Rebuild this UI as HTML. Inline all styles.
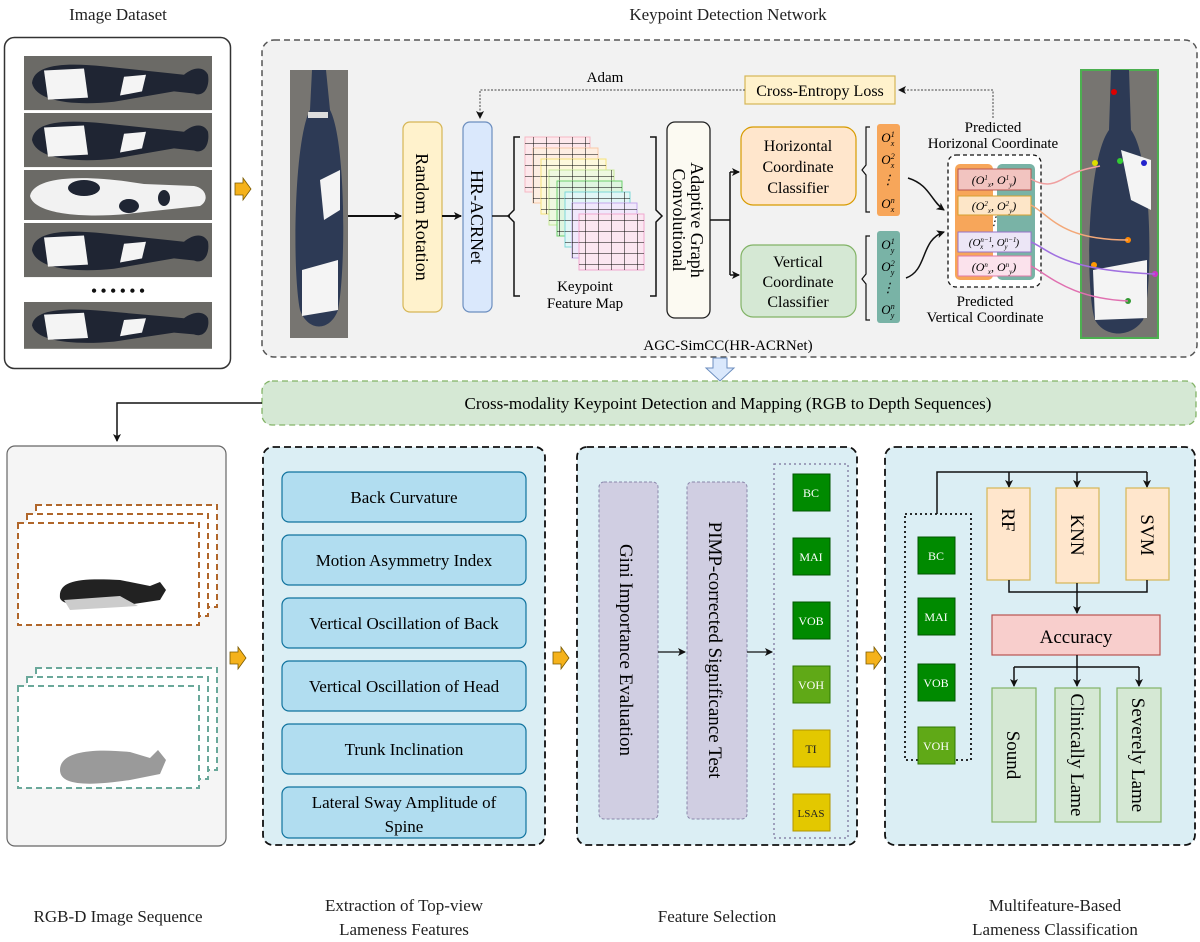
<!DOCTYPE html>
<html><head><meta charset="utf-8"><style>
html,body{margin:0;padding:0;background:#fff;}
svg{display:block;font-family:"Liberation Serif",serif;}
</style></head><body>
<svg width="1200" height="942" viewBox="0 0 1200 942" xmlns="http://www.w3.org/2000/svg">
<defs>
<marker id="ah" markerWidth="8" markerHeight="8" refX="7" refY="4" orient="auto" markerUnits="userSpaceOnUse"><path d="M0,0 L8,4 L0,8 L2,4 Z" fill="#111"/></marker>
<g id="cowH">
 <rect x="0" y="0" width="188" height="52" fill="#6b6a66"/>
 <path d="M8,26 C10,8 40,6 80,10 L140,16 L160,18 C170,10 180,10 184,18 C186,30 180,40 170,36 L150,34 L90,44 C50,48 12,44 8,26Z" fill="#1f2533"/>
 <path d="M20,14 L60,12 L64,40 L24,42Z" fill="#f4f4f4"/>
 <path d="M100,20 L122,18 L118,34 L96,38Z" fill="#f4f4f4"/>
</g>
<g id="yarr"><path d="M0,-6 L8,-6 L8,-11 L16,0 L8,11 L8,6 L0,6Z" fill="#f5b21b" stroke="#7a5a00" stroke-width="0.8"/></g>
<pattern id="grid" width="13" height="11" patternUnits="userSpaceOnUse"><path d="M13,0 L0,0 0,11" fill="none" stroke="currentColor" stroke-width="1"/></pattern>
</defs>

<g font-size="17" text-anchor="middle" fill="#222">
<text x="118" y="20">Image Dataset</text>
<text x="728" y="20">Keypoint Detection Network</text>
<text x="118" y="922">RGB-D Image Sequence</text>
<text x="404" y="911">Extraction of Top-view</text>
<text x="404" y="935">Lameness Features</text>
<text x="717" y="922">Feature Selection</text>
<text x="1055" y="911">Multifeature-Based</text>
<text x="1055" y="935">Lameness Classification</text>
</g>

<rect x="4.5" y="37.5" width="226" height="331" rx="10" fill="#fff" stroke="#333" stroke-width="1.5"/>
<use href="#cowH" transform="translate(24,56) scale(1,1.04)"/>
<use href="#cowH" transform="translate(24,113) scale(1,1.04)"/>
<g transform="translate(24,170)"><rect width="188" height="50" fill="#6b6a66"/><path d="M6,26 C10,6 60,4 120,14 L170,16 C182,18 186,30 176,36 L120,42 C60,50 10,44 6,26Z" fill="#f2f2f2"/><ellipse cx="60" cy="18" rx="16" ry="8" fill="#1f2533"/><ellipse cx="105" cy="36" rx="10" ry="7" fill="#1f2533"/><ellipse cx="140" cy="28" rx="6" ry="8" fill="#1f2533"/></g>
<use href="#cowH" transform="translate(24,223) scale(1,1.04)"/>
<text x="118" y="296" text-anchor="middle" font-size="16" font-weight="bold" fill="#111">• • • • • •</text>
<use href="#cowH" transform="translate(24,302) scale(1,0.9)"/>
<use href="#yarr" transform="translate(235,189)"/>

<rect x="262" y="40" width="935" height="317" rx="12" fill="#f2f2f2" stroke="#555" stroke-width="1.5" stroke-dasharray="6,4"/>
<g transform="translate(290,70)"><rect width="58" height="268" fill="#777571"/>
<path d="M22,0 L36,0 L40,40 C56,70 56,200 48,240 C40,262 18,262 10,240 C2,200 4,70 20,40Z" fill="#2d3a55"/>
<path d="M12,200 L48,190 L48,240 L12,246Z" fill="#f4f4f4"/><path d="M30,110 L50,100 L50,140 L34,150Z" fill="#f4f4f4"/><rect x="18" y="42" width="20" height="6" fill="#ddd"/></g>
<line x1="348" y1="216" x2="401" y2="216" stroke="#111" stroke-width="2" marker-end="url(#ah)"/>
<rect x="403" y="122" width="39" height="190" rx="7" fill="#fff2cc" stroke="#d6b656" stroke-width="1.2"/>
<text transform="translate(416,217) rotate(90)" text-anchor="middle" font-size="18">Random Rotation</text>
<line x1="442" y1="216" x2="461" y2="216" stroke="#111" stroke-width="2" marker-end="url(#ah)"/>
<rect x="463" y="122" width="29" height="190" rx="7" fill="#dae8fc" stroke="#6c8ebf" stroke-width="1.2"/>
<text transform="translate(471,217) rotate(90)" text-anchor="middle" font-size="18">HR-ACRNet</text>
<line x1="492" y1="216" x2="510" y2="216" stroke="#111" stroke-width="1.5"/>
<path d="M520,137 L514,137 L514,210 L508,216 L514,222 L514,296 L520,296" fill="none" stroke="#111" stroke-width="1.5"/>
<path d="M650,137 L656,137 L656,210 L662,216 L656,222 L656,296 L650,296" fill="none" stroke="#111" stroke-width="1.5"/>
<g stroke-width="1">
<g color="#f7b8c4"><rect x="525" y="137" width="65" height="55" fill="#fde8ec" stroke="#f7b8c4"/><rect x="525" y="137" width="65" height="55" fill="url(#grid)"/></g>
<g color="#f9c9a8"><rect x="533" y="148" width="65" height="55" fill="#fdeee2" stroke="#f9c9a8"/><rect x="533" y="148" width="65" height="55" fill="url(#grid)"/></g>
<g color="#f5e27a"><rect x="541" y="159" width="65" height="55" fill="#fdf8dc" stroke="#f5e27a"/><rect x="541" y="159" width="65" height="55" fill="url(#grid)"/></g>
<g color="#c8e89a"><rect x="549" y="170" width="65" height="55" fill="#eef8e0" stroke="#c8e89a"/><rect x="549" y="170" width="65" height="55" fill="url(#grid)"/></g>
<g color="#6cd06c"><rect x="557" y="181" width="65" height="55" fill="#dff5df" stroke="#6cd06c"/><rect x="557" y="181" width="65" height="55" fill="url(#grid)"/></g>
<g color="#7dd8d8"><rect x="565" y="192" width="65" height="55" fill="#e2f6f6" stroke="#7dd8d8"/><rect x="565" y="192" width="65" height="55" fill="url(#grid)"/></g>
<g color="#c4a8ec"><rect x="572" y="203" width="65" height="55" fill="#f0e8fb" stroke="#c4a8ec"/><rect x="572" y="203" width="65" height="55" fill="url(#grid)"/></g>
<g color="#f0a8d0"><rect x="579" y="214" width="65" height="56" fill="#fbe6f1" stroke="#f0a8d0"/><rect x="579" y="214" width="65" height="56" fill="url(#grid)"/></g>
</g>
<text x="585" y="291" text-anchor="middle" font-size="15">Keypoint</text>
<text x="585" y="308" text-anchor="middle" font-size="15">Feature Map</text>
<rect x="667" y="122" width="43" height="196" rx="8" fill="#fcfaf2" stroke="#222" stroke-width="1.3"/>
<text transform="translate(691,220) rotate(90)" text-anchor="middle" font-size="18">Adaptive Graph</text>
<text transform="translate(673,220) rotate(90)" text-anchor="middle" font-size="18">Convolutional</text>
<path d="M710,220 L730,220 M730,172 L730,275" stroke="#111" stroke-width="1.5" fill="none"/>
<line x1="730" y1="172" x2="739" y2="172" stroke="#111" stroke-width="1.5" marker-end="url(#ah)"/>
<line x1="730" y1="275" x2="739" y2="275" stroke="#111" stroke-width="1.5" marker-end="url(#ah)"/>
<rect x="741" y="127" width="115" height="78" rx="12" fill="#ffe6cc" stroke="#d79b00" stroke-width="1.2"/>
<g font-size="16" text-anchor="middle"><text x="798" y="151">Horizontal</text><text x="798" y="172">Coordinate</text><text x="798" y="193">Classifier</text></g>
<rect x="741" y="245" width="115" height="72" rx="12" fill="#d5e8d4" stroke="#82b366" stroke-width="1.2"/>
<g font-size="16" text-anchor="middle"><text x="798" y="267">Vertical</text><text x="798" y="287">Coordinate</text><text x="798" y="307">Classifier</text></g>
<path d="M870,127 L866,127 L866,165 L862,170 L866,175 L866,212 L870,212" fill="none" stroke="#111" stroke-width="1.2"/>
<path d="M870,236 L866,236 L866,274 L862,279 L866,284 L866,320 L870,320" fill="none" stroke="#111" stroke-width="1.2"/>
<rect x="877" y="124" width="23" height="92" rx="3" fill="#f7a65a"/>
<rect x="877" y="231" width="23" height="92" rx="3" fill="#79b3a6"/>
<g font-size="13" text-anchor="middle" font-style="italic">
<text x="888" y="142">O<tspan font-size="8" dy="-5">1</tspan><tspan font-size="8" dx="-4" dy="9">x</tspan></text>
<text x="888" y="164">O<tspan font-size="8" dy="-5">2</tspan><tspan font-size="8" dx="-4" dy="9">x</tspan></text>
<text x="888" y="184">⋮</text>
<text x="888" y="208">O<tspan font-size="8" dy="-5">n</tspan><tspan font-size="8" dx="-4" dy="9">x</tspan></text>
<text x="888" y="249">O<tspan font-size="8" dy="-5">1</tspan><tspan font-size="8" dx="-4" dy="9">y</tspan></text>
<text x="888" y="271">O<tspan font-size="8" dy="-5">2</tspan><tspan font-size="8" dx="-4" dy="9">y</tspan></text>
<text x="888" y="292">⋮</text>
<text x="888" y="314">O<tspan font-size="8" dy="-5">n</tspan><tspan font-size="8" dx="-4" dy="9">y</tspan></text>
</g>
<path d="M908,178 C930,185 930,200 944,210" fill="none" stroke="#111" stroke-width="1.5" marker-end="url(#ah)"/>
<path d="M906,278 C928,270 920,240 944,232" fill="none" stroke="#111" stroke-width="1.5" marker-end="url(#ah)"/>
<rect x="948" y="155" width="93" height="132" rx="8" fill="#fff" stroke="#111" stroke-width="1.3" stroke-dasharray="4,3"/>
<rect x="955" y="164" width="38" height="116" rx="5" fill="#f7a65a"/>
<rect x="997" y="164" width="38" height="116" rx="5" fill="#79b3a6"/>
<rect x="958" y="169" width="73" height="21" fill="#f2c4c0" stroke="#b85450"/>
<rect x="958" y="196" width="73" height="19" fill="#fde6c8" stroke="#d6a030"/>
<rect x="958" y="232" width="73" height="20" fill="#ece6f6" stroke="#9673c8"/>
<rect x="958" y="256" width="73" height="20" fill="#fbe2ec" stroke="#e07aa8"/>
<g font-size="12" text-anchor="middle" font-style="italic">
<text x="994" y="184">(O<tspan font-size="7" dy="-4">1</tspan><tspan font-size="7" dy="7">x</tspan><tspan dy="-3">, O</tspan><tspan font-size="7" dy="-4">1</tspan><tspan font-size="7" dy="7">y</tspan><tspan dy="-3">)</tspan></text>
<text x="994" y="210">(O<tspan font-size="7" dy="-4">2</tspan><tspan font-size="7" dy="7">x</tspan><tspan dy="-3">, O</tspan><tspan font-size="7" dy="-4">2</tspan><tspan font-size="7" dy="7">y</tspan><tspan dy="-3">)</tspan></text>
<text x="994" y="225">⋮</text>
<text x="994" y="246" font-size="11">(O<tspan font-size="7" dy="-4">n−1</tspan><tspan font-size="7" dx="-12" dy="7">x</tspan><tspan dx="8" dy="-3">, O</tspan><tspan font-size="7" dy="-4">n−1</tspan><tspan font-size="7" dx="-12" dy="7">y</tspan><tspan dx="8" dy="-3">)</tspan></text>
<text x="994" y="271">(O<tspan font-size="7" dy="-4">n</tspan><tspan font-size="7" dy="7">x</tspan><tspan dy="-3">, O</tspan><tspan font-size="7" dy="-4">n</tspan><tspan font-size="7" dy="7">y</tspan><tspan dy="-3">)</tspan></text>
</g>
<g font-size="15" text-anchor="middle"><text x="993" y="132">Predicted</text><text x="993" y="148">Horizonal Coordinate</text>
<text x="985" y="306">Predicted</text><text x="985" y="322">Vertical Coordinate</text></g>
<rect x="745" y="76" width="150" height="28" fill="#fff2cc" stroke="#d6b656" stroke-width="1.2"/>
<text x="820" y="96" text-anchor="middle" font-size="16">Cross-Entropy Loss</text>
<text x="605" y="82" text-anchor="middle" font-size="15">Adam</text>
<path d="M745,90 L480,90 L480,118" fill="none" stroke="#444" stroke-width="1" stroke-dasharray="2,1.5" marker-end="url(#ah)"/>
<path d="M993,118 L993,90 L899,90" fill="none" stroke="#444" stroke-width="1" stroke-dasharray="2,1.5" marker-end="url(#ah)"/>
<g transform="translate(1081,70)"><rect width="77" height="268" fill="#777571" stroke="#4caf50" stroke-width="2"/>
<path d="M30,0 L48,0 L50,60 C72,90 72,220 62,250 C50,268 24,268 14,250 C4,220 6,90 28,60Z" fill="#2d3a55"/>
<path d="M40,80 L70,90 L70,140 L50,130Z" fill="#f4f4f4"/><path d="M12,200 L66,190 L66,248 L14,250Z" fill="#f4f4f4"/>
<circle cx="33" cy="22" r="3" fill="#d00"/><circle cx="14" cy="93" r="3" fill="#dd0"/><circle cx="39" cy="91" r="3" fill="#3c3"/><circle cx="63" cy="93" r="3" fill="#22c"/>
<circle cx="47" cy="170" r="3" fill="#f80"/><circle cx="13" cy="195" r="3" fill="#f90"/><circle cx="74" cy="204" r="3" fill="#c3c"/><circle cx="47" cy="231" r="3" fill="#393"/></g>
<path d="M1031,179 C1050,190 1060,180 1070,175 C1080,170 1090,168 1100,166" fill="none" stroke="#f0a0a0" stroke-width="1.5"/>
<path d="M1031,205 C1050,215 1060,240 1128,240" fill="none" stroke="#f3a878" stroke-width="1.5"/>
<path d="M1031,242 C1050,250 1060,270 1155,274" fill="none" stroke="#a070e0" stroke-width="1.5"/>
<path d="M1031,266 C1050,276 1070,298 1128,301" fill="none" stroke="#e070b0" stroke-width="1.5"/>
<text x="728" y="350" text-anchor="middle" font-size="15">AGC-SimCC(HR-ACRNet)</text>
<path d="M713,358 L727,358 L727,368 L734,368 L720,381 L706,368 L713,368Z" fill="#dae8fc" stroke="#6c8ebf"/>

<rect x="262" y="381" width="934" height="44" rx="10" fill="#d5e8d4" stroke="#82b366" stroke-width="1.3" stroke-dasharray="6,4"/>
<text x="728" y="409" text-anchor="middle" font-size="17">Cross-modality Keypoint Detection and Mapping (RGB to Depth Sequences)</text>
<path d="M262,403 L117,403 L117,441" fill="none" stroke="#111" stroke-width="1.5" marker-end="url(#ah)"/>

<rect x="7" y="446" width="219" height="400" rx="8" fill="#f5f5f5" stroke="#666" stroke-width="1.2"/>
<g fill="#fff" stroke="#b0662a" stroke-width="2" stroke-dasharray="6,4">
<rect x="36" y="505" width="181" height="102"/><rect x="27" y="514" width="181" height="102"/><rect x="18" y="523" width="181" height="102"/></g>
<path d="M60,598 C58,580 80,578 120,580 L150,586 L160,582 L166,590 L160,600 L120,606 C90,608 62,606 60,598Z" fill="#222"/>
<path d="M64,600 L120,596 L138,606 L70,610Z" fill="#ccc"/>
<g fill="#fff" stroke="#6aa89a" stroke-width="2" stroke-dasharray="6,4">
<rect x="36" y="668" width="181" height="102"/><rect x="27" y="677" width="181" height="102"/><rect x="18" y="686" width="181" height="102"/></g>
<path d="M60,770 C60,752 90,748 130,752 L150,758 L158,750 L166,760 L160,774 L130,780 C90,786 60,786 60,770Z" fill="#9a9a9a"/>
<use href="#yarr" transform="translate(230,658)"/>

<rect x="263" y="447" width="282" height="398" rx="10" fill="#dbeef4" stroke="#111" stroke-width="1.8" stroke-dasharray="7,4"/>
<g fill="#b1ddf0" stroke="#10739e" stroke-width="1.2">
<rect x="282" y="472" width="244" height="50" rx="7"/><rect x="282" y="535" width="244" height="50" rx="7"/>
<rect x="282" y="598" width="244" height="50" rx="7"/><rect x="282" y="661" width="244" height="50" rx="7"/>
<rect x="282" y="724" width="244" height="50" rx="7"/><rect x="282" y="787" width="244" height="51" rx="7"/></g>
<g font-size="17" text-anchor="middle">
<text x="404" y="503">Back Curvature</text><text x="404" y="566">Motion Asymmetry Index</text>
<text x="404" y="629">Vertical Oscillation of Back</text><text x="404" y="692">Vertical Oscillation of Head</text>
<text x="404" y="755">Trunk Inclination</text><text x="404" y="808">Lateral Sway Amplitude of</text><text x="404" y="832">Spine</text></g>
<use href="#yarr" transform="translate(553,658)"/>

<rect x="577" y="447" width="280" height="398" rx="10" fill="#dbeef4" stroke="#111" stroke-width="1.8" stroke-dasharray="7,4"/>
<rect x="599" y="482" width="59" height="337" rx="5" fill="#d0cee2" stroke="#8a86aa" stroke-dasharray="3,2"/>
<rect x="687" y="482" width="60" height="337" rx="5" fill="#d0cee2" stroke="#8a86aa" stroke-dasharray="3,2"/>
<text transform="translate(620,650) rotate(90)" text-anchor="middle" font-size="19">Gini Importance Evaluation</text>
<text transform="translate(709,650) rotate(90)" text-anchor="middle" font-size="19">PIMP-corrected Significance Test</text>
<line x1="658" y1="652" x2="685" y2="652" stroke="#111" stroke-width="1.2" marker-end="url(#ah)"/>
<line x1="747" y1="652" x2="772" y2="652" stroke="#111" stroke-width="1.2" marker-end="url(#ah)"/>
<rect x="774" y="464" width="74" height="374" fill="none" stroke="#8a86aa" stroke-width="1.5" stroke-dasharray="2,3"/>
<g stroke-width="1">
<rect x="793" y="474" width="37" height="37" fill="#008a00" stroke="#005700"/>
<rect x="793" y="538" width="37" height="37" fill="#008a00" stroke="#005700"/>
<rect x="793" y="602" width="37" height="37" fill="#008a00" stroke="#005700"/>
<rect x="793" y="666" width="37" height="37" fill="#60a917" stroke="#2d7600"/>
<rect x="793" y="730" width="37" height="37" fill="#e3c800" stroke="#b09500"/>
<rect x="793" y="794" width="37" height="37" fill="#e3c800" stroke="#b09500"/></g>
<g font-size="12" text-anchor="middle"><text x="811" y="497" fill="#fff">BC</text><text x="811" y="561" fill="#fff">MAI</text><text x="811" y="625" fill="#fff">VOB</text><text x="811" y="689" fill="#fff">VOH</text><text x="811" y="753" fill="#222">TI</text><text x="811" y="817" fill="#222" font-size="11">LSAS</text></g>
<use href="#yarr" transform="translate(866,658)"/>

<rect x="885" y="447" width="310" height="398" rx="10" fill="#dbeef4" stroke="#111" stroke-width="1.8" stroke-dasharray="7,4"/>
<rect x="905" y="514" width="66" height="246" fill="none" stroke="#111" stroke-width="1.8" stroke-dasharray="2,3"/>
<g stroke-width="1">
<rect x="918" y="537" width="37" height="37" fill="#008a00" stroke="#005700"/>
<rect x="918" y="598" width="37" height="37" fill="#008a00" stroke="#005700"/>
<rect x="918" y="664" width="37" height="37" fill="#008a00" stroke="#005700"/>
<rect x="918" y="727" width="37" height="37" fill="#60a917" stroke="#2d7600"/></g>
<g font-size="12" text-anchor="middle" fill="#fff"><text x="936" y="560">BC</text><text x="936" y="621">MAI</text><text x="936" y="687">VOB</text><text x="936" y="750">VOH</text></g>
<path d="M937,514 L937,472 L1147,472" fill="none" stroke="#111" stroke-width="1.5"/>
<line x1="1009" y1="472" x2="1009" y2="487" stroke="#111" stroke-width="1.5" marker-end="url(#ah)"/>
<line x1="1077" y1="472" x2="1077" y2="487" stroke="#111" stroke-width="1.5" marker-end="url(#ah)"/>
<line x1="1147" y1="472" x2="1147" y2="487" stroke="#111" stroke-width="1.5" marker-end="url(#ah)"/>
<g fill="#ffe6cc" stroke="#d6b656" stroke-width="1.2">
<rect x="987" y="488" width="43" height="92"/><rect x="1056" y="488" width="43" height="95"/><rect x="1126" y="488" width="43" height="92"/></g>
<g font-size="19" text-anchor="middle">
<text transform="translate(1002,520) rotate(90)">RF</text><text transform="translate(1071,535) rotate(90)">KNN</text><text transform="translate(1141,535) rotate(90)">SVM</text></g>
<path d="M1009,580 L1009,592 L1147,592 L1147,580" fill="none" stroke="#111" stroke-width="1.5"/>
<line x1="1077" y1="583" x2="1077" y2="613" stroke="#111" stroke-width="1.5" marker-end="url(#ah)"/>
<rect x="992" y="615" width="168" height="40" fill="#f8cecc" stroke="#b85450" stroke-width="1.2"/>
<text x="1076" y="643" text-anchor="middle" font-size="19">Accuracy</text>
<path d="M1077,655 L1077,667 M1014,667 L1139,667" fill="none" stroke="#111" stroke-width="1.5"/>
<line x1="1014" y1="667" x2="1014" y2="686" stroke="#111" stroke-width="1.5" marker-end="url(#ah)"/>
<line x1="1077" y1="667" x2="1077" y2="686" stroke="#111" stroke-width="1.5" marker-end="url(#ah)"/>
<line x1="1139" y1="667" x2="1139" y2="686" stroke="#111" stroke-width="1.5" marker-end="url(#ah)"/>
<g fill="#d5e8d4" stroke="#82b366" stroke-width="1.2">
<rect x="992" y="688" width="44" height="134"/><rect x="1055" y="688" width="45" height="134"/><rect x="1117" y="688" width="44" height="134"/></g>
<g font-size="19" text-anchor="middle">
<text transform="translate(1007,755) rotate(90)">Sound</text><text transform="translate(1071,755) rotate(90)">Clinically Lame</text><text transform="translate(1132,755) rotate(90)">Severely Lame</text></g>
</svg>
</body></html>
